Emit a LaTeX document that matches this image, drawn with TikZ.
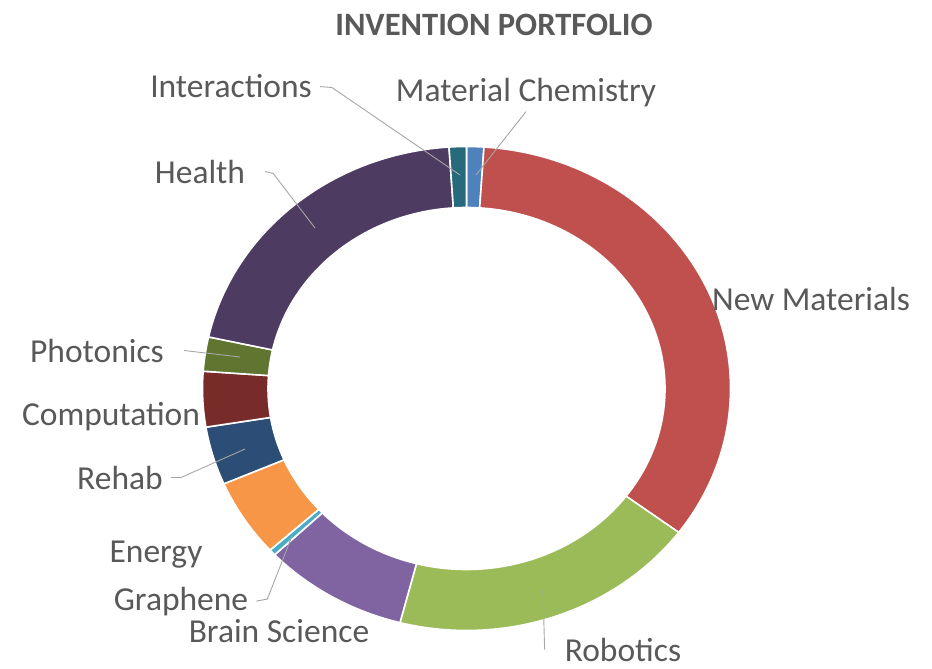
\documentclass[tikz,border=0pt]{standalone}
\usepackage{fontspec}
\setmainfont{Carlito}
\definecolor{labgray}{HTML}{595959}
\definecolor{leadgray}{HTML}{A6A6A6}
\definecolor{matchem}{HTML}{4F81BD}
\definecolor{newmat}{HTML}{C0504D}
\definecolor{robot}{HTML}{9BBB59}
\definecolor{brain}{HTML}{8064A2}
\definecolor{graph}{HTML}{4BACC6}
\definecolor{energy}{HTML}{F79646}
\definecolor{rehab}{HTML}{2C4D75}
\definecolor{comp}{HTML}{772C2A}
\definecolor{photo}{HTML}{5F7530}
\definecolor{health}{HTML}{4D3B62}
\definecolor{inter}{HTML}{276A7C}

\begin{document}
\begin{tikzpicture}[x=1pt,y=-1pt]
	\tikzstyle{ringpart}=[draw=white,line width=1.6pt]
	\tikzstyle{ringout}=[x radius=264pt,y radius=242pt]
	\tikzstyle{ringin}=[x radius=198.5pt,y radius=181pt]
	\tikzstyle{lab}=[text=labgray,inner sep=0pt,anchor=base,font=\fontsize{33.5}{40}\selectfont]
	\tikzstyle{leader}=[draw=leadgray,line width=0.9pt]
	\useasboundingbox (0,0) rectangle (932,669);
	\node[lab,anchor=center,font=\bfseries\fontsize{32.6}{39}\selectfont] (title) at (494,25) {INVENTION PORTFOLIO};
	% the ring, clockwise from the top
	\begin{scope}[shift={(466.5,388.5)}]
	\filldraw[ringpart,fill=matchem] (90:264pt and 242pt) arc[ringout,start angle=90,end angle=86.2] -- (86.2:198.5pt and 181pt) arc[ringin,start angle=86.2,end angle=90] -- cycle;
	\filldraw[ringpart,fill=newmat] (86.2:264pt and 242pt) arc[ringout,start angle=86.2,end angle=-36.5] -- (-36.5:198.5pt and 181pt) arc[ringin,start angle=-36.5,end angle=86.2] -- cycle;
	\filldraw[ringpart,fill=robot] (-36.5:264pt and 242pt) arc[ringout,start angle=-36.5,end angle=-104.6] -- (-104.6:198.5pt and 181pt) arc[ringin,start angle=-104.6,end angle=-36.5] -- cycle;
	\filldraw[ringpart,fill=brain] (-104.6:264pt and 242pt) arc[ringout,start angle=-104.6,end angle=-136.6] -- (-136.6:198.5pt and 181pt) arc[ringin,start angle=-136.6,end angle=-104.6] -- cycle;
	\filldraw[ringpart,fill=graph] (-136.6:264pt and 242pt) arc[ringout,start angle=-136.6,end angle=-138.1] -- (-138.1:198.5pt and 181pt) arc[ringin,start angle=-138.1,end angle=-136.6] -- cycle;
	\filldraw[ringpart,fill=energy] (-138.1:264pt and 242pt) arc[ringout,start angle=-138.1,end angle=-156.8] -- (-156.8:198.5pt and 181pt) arc[ringin,start angle=-156.8,end angle=-138.1] -- cycle;
	\filldraw[ringpart,fill=rehab] (-156.8:264pt and 242pt) arc[ringout,start angle=-156.8,end angle=-170.8] -- (-170.8:198.5pt and 181pt) arc[ringin,start angle=-170.8,end angle=-156.8] -- cycle;
	\filldraw[ringpart,fill=comp] (-170.8:264pt and 242pt) arc[ringout,start angle=-170.8,end angle=-184.1] -- (-184.1:198.5pt and 181pt) arc[ringin,start angle=-184.1,end angle=-170.8] -- cycle;
	\filldraw[ringpart,fill=photo] (-184.1:264pt and 242pt) arc[ringout,start angle=-184.1,end angle=-192.3] -- (-192.3:198.5pt and 181pt) arc[ringin,start angle=-192.3,end angle=-184.1] -- cycle;
	\filldraw[ringpart,fill=health] (-192.3:264pt and 242pt) arc[ringout,start angle=-192.3,end angle=-266.2] -- (-266.2:198.5pt and 181pt) arc[ringin,start angle=-266.2,end angle=-192.3] -- cycle;
	\filldraw[ringpart,fill=inter] (-266.2:264pt and 242pt) arc[ringout,start angle=-266.2,end angle=-270] -- (-270:198.5pt and 181pt) arc[ringin,start angle=-270,end angle=-266.2] -- cycle;
	\end{scope}
	% labels
	\node[lab] (Interactions) at (231,98) {Interactions};
	\node[lab] (MatChem) at (526,102) {Material Chemistry};
	\node[lab] (Health) at (200,183) {Health};
	\node[lab] (NewMat) at (811,310) {New Materials};
	\node[lab] (Photonics) at (97,362) {Photonics};
	\node[lab] (Computation) at (111,425) {Computation};
	\node[lab] (Rehab) at (120,489) {Rehab};
	\node[lab] (Energy) at (156,562) {Energy};
	\node[lab] (Graphene) at (181,610) {Graphene};
	\node[lab] (Brain) at (279,642) {Brain Science};
	\node[lab] (Robotics) at (623,661) {Robotics};
	% leader ends
	\coordinate (c-inter) at (460,175);
	\coordinate (c-matchem) at (476,175);
	\coordinate (c-health) at (315,228);
	\coordinate (c-photo) at (240,357);
	\coordinate (c-rehab) at (245,449);
	\coordinate (c-graph) at (292,536);
	\coordinate (c-robot) at (543,590);
	\draw[leader] ([xshift=8pt]Interactions.east) -- ++(12,1) -- (c-inter);
	\draw[leader] ([yshift=-4pt]MatChem.south) -- (c-matchem);
	\draw[leader] ([xshift=20pt]Health.east) -- ++(8,2) -- (c-health);
	\draw[leader] ([xshift=20pt]Photonics.east) -- (c-photo);
	\draw[leader] ([xshift=8pt]Rehab.east) -- ++(10,0) -- (c-rehab);
	\draw[leader] ([xshift=8pt]Graphene.east) -- ++(11,-2) -- (c-graph);
	\draw[leader] ([xshift=-20pt]Robotics.west) -- (c-robot);
\end{tikzpicture}
\end{document}
